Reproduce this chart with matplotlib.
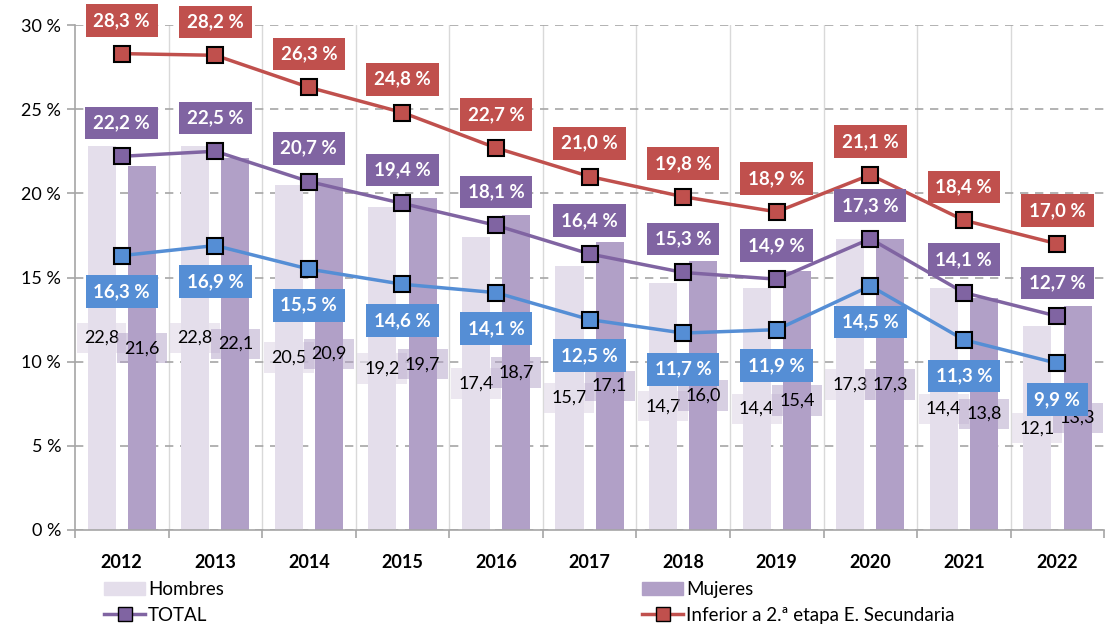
import numpy as np
import matplotlib
matplotlib.use("Agg")
from matplotlib import pyplot as plt
from matplotlib.lines import Line2D
from matplotlib.patches import Patch

plt.rcParams['font.family'] = ['Lato', 'DejaVu Sans']

years = ['2012', '2013', '2014', '2015', '2016', '2017', '2018', '2019', '2020', '2021', '2022']
hombres = [22.8, 22.8, 20.5, 19.2, 17.4, 15.7, 14.7, 14.4, 17.3, 14.4, 12.1]
mujeres = [21.6, 22.1, 20.9, 19.7, 18.7, 17.1, 16.0, 15.4, 17.3, 13.8, 13.3]
total = [22.2, 22.5, 20.7, 19.4, 18.1, 16.4, 15.3, 14.9, 17.3, 14.1, 12.7]
inferior = [28.3, 28.2, 26.3, 24.8, 22.7, 21.0, 19.8, 18.9, 21.1, 18.4, 17.0]
azul = [16.3, 16.9, 15.5, 14.6, 14.1, 12.5, 11.7, 11.9, 14.5, 11.3, 9.9]

c_hom = '#E4DEEB'
c_muj = '#B1A0C7'
c_tot = '#8064A2'
c_inf = '#C0504D'
c_azul = '#558ED5'

fig = plt.figure(figsize=(11.12, 6.25), dpi=100)
ax = fig.add_axes([0.0674, 0.152, 0.9256, 0.808])

x = np.arange(len(years))
w = 0.3
off = 0.215

ax.bar(x - off, hombres, w, color=c_hom, zorder=2)
ax.bar(x + off, mujeres, w, color=c_muj, zorder=2)

def fmt(v):
    return ('%.1f' % v).replace('.', ',')

# etiquetas de las barras (en el centro)
for i in range(len(years)):
    ax.text(x[i] - off, hombres[i] / 2, fmt(hombres[i]), ha='center', va='center',
            fontsize=13, color='black', zorder=3,
            bbox=dict(boxstyle='square,pad=0.4', fc=c_hom, ec='none', alpha=0.7))
    ax.text(x[i] + off, mujeres[i] / 2, fmt(mujeres[i]), ha='center', va='center',
            fontsize=13, color='black', zorder=3,
            bbox=dict(boxstyle='square,pad=0.4', fc=c_muj, ec='none', alpha=0.5))

series = [(azul, c_azul, -26), (total, c_tot, 24), (inferior, c_inf, 24)]
for vals, col, dy in series:
    ax.plot(x, vals, color=col, lw=2.5, marker='s', ms=12, mfc=col, mec='black',
            mew=1.5, zorder=4)
    for i, v in enumerate(vals):
        ax.annotate(fmt(v) + ' %', (x[i], v), xytext=(0, dy), textcoords='offset points',
                    ha='center', va='center', fontsize=13.5, fontweight='bold',
                    color='white', zorder=5,
                    bbox=dict(boxstyle='square,pad=0.42', fc=col, ec='none'))

ax.set_xlim(-0.5, len(years) - 0.5)
ax.set_ylim(0, 30)
ax.set_yticks(np.arange(0, 31, 5))
ax.set_yticklabels(['%d %%' % t for t in range(0, 31, 5)], fontsize=13)
ax.yaxis.grid(True, color='#A6A6A6', ls=(0, (5, 4)), lw=1.2, zorder=0)
for b in np.arange(0.5, len(years) - 0.5, 1):
    ax.axvline(b, color='#D9D9D9', lw=1, zorder=0)

ax.set_xticks(np.arange(-0.5, len(years), 1))
ax.set_xticklabels([])
ax.set_xticks(x, minor=True)
ax.set_xticklabels(years, minor=True, fontsize=13, fontweight='bold')
ax.tick_params(axis='x', which='major', length=6, color='#A6A6A6', width=1.2)
ax.tick_params(axis='x', which='minor', length=0, pad=17)
ax.tick_params(axis='y', length=6, color='#A6A6A6', width=1.2, pad=4)

for s in ['top', 'right']:
    ax.spines[s].set_visible(False)
ax.spines['left'].set_color('#A6A6A6')
ax.spines['bottom'].set_color('#A6A6A6')
ax.spines['left'].set_linewidth(1.2)
ax.spines['bottom'].set_linewidth(1.2)

handles = [
    Patch(color=c_hom, label='Hombres'),
    Line2D([], [], color=c_tot, lw=2.5, marker='s', ms=10, mfc=c_tot, mec='black', label='TOTAL'),
    Patch(color=c_muj, label='Mujeres'),
    Line2D([], [], color=c_inf, lw=2.5, marker='s', ms=10, mfc=c_inf, mec='black',
           label='Inferior a 2.ª etapa E. Secundaria'),
]
fig.legend(handles=handles, ncol=2, loc='upper left', bbox_to_anchor=(0.085, 0.085),
           frameon=False, fontsize=13.5, columnspacing=22.3, handlelength=2.2,
           handletextpad=0.15, labelspacing=0.45, borderpad=0)

fig.savefig('out.png', dpi=100)
